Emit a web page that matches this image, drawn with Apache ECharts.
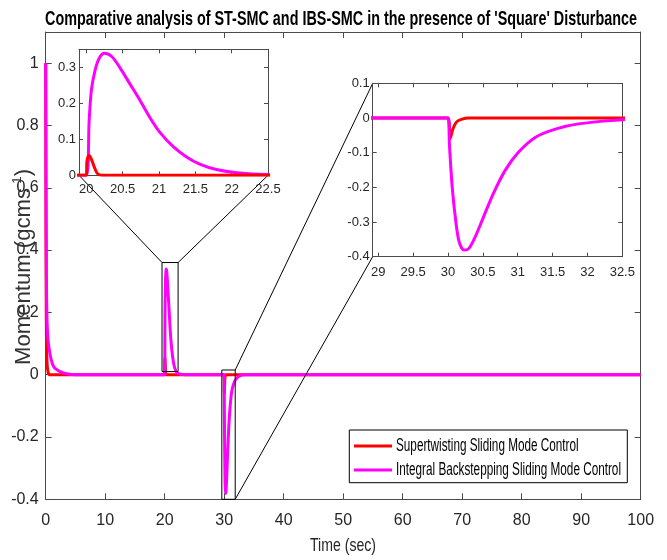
<!DOCTYPE html>
<html>
<head>
<meta charset="utf-8">
<script src="https://cdn.jsdelivr.net/npm/echarts@6/dist/echarts.min.js"></script>
<style>
  html, body { margin: 0; padding: 0; background: #fff; }
  #chart { width: 667px; height: 560px; }
</style>
</head>
<body>
<div id="chart"></div>
<script>
// Momentum response of the two controllers under a square disturbance
const stTime  = [0, 0.03, 0.06, 0.1, 0.15, 0.2, 0.3, 0.45, 0.6, 20.0, 20.01, 20.04, 20.07, 20.12, 20.16, 20.22, 30.0, 30.03, 30.07, 30.12, 30.19, 30.3, 100];
const stValue = [1, 0.6, 0.35, 0.18, 0.09, 0.05, 0.02, 0.005, 0, 0, 0.04, 0.055, 0.045, 0.018, 0.003, 0, 0, -0.06, -0.032, -0.012, -0.004, 0, 0];

const ibsTime  = [0, 0.03, 0.06, 0.1, 0.15, 0.25, 0.4, 0.6, 0.9, 1.3, 1.8, 2.4, 3.5, 5, 20.0, 20.04, 20.07, 20.12, 20.18, 20.25, 20.35, 20.46, 20.6, 20.74, 20.87, 21.01, 21.2, 21.38, 21.56, 21.79, 22.07, 22.5, 23.5, 30.0, 30.02, 30.06, 30.11, 30.16, 30.23, 30.3, 30.39, 30.51, 30.65, 30.82, 31.01, 31.25, 31.54, 31.87, 32.5, 33.5, 100];
const ibsValue = [1, 0.8, 0.6, 0.4, 0.25, 0.16, 0.11, 0.08, 0.05, 0.027, 0.017, 0.01, 0.003, 0, 0, 0.153, 0.236, 0.291, 0.326, 0.339, 0.33, 0.30, 0.254, 0.208, 0.162, 0.12, 0.079, 0.051, 0.031, 0.016, 0.007, 0.002, 0, 0, -0.075, -0.199, -0.295, -0.357, -0.381, -0.376, -0.343, -0.285, -0.218, -0.151, -0.099, -0.056, -0.032, -0.017, -0.005, 0, 0];

const seriesNames = ['Supertwisting Sliding Mode Control', 'Integral Backstepping Sliding Mode Control'];
const seriesColors = ['#ff0000', '#ff00ff'];

const titleText = "Comparative analysis of ST-SMC and IBS-SMC in the presence of 'Square' Disturbance";
const xName = 'Time (sec)';
const yNameMain = 'Momentum (gcms';
const yNameSup = '-1';

// main axes ticks
const mainXTicks = [0, 10, 20, 30, 40, 50, 60, 70, 80, 90, 100];
const mainYTicks = [-0.4, -0.2, 0, 0.2, 0.4, 0.6, 0.8, 1];
// zoomed views: [xmin, xmax, ymin, ymax]
const zoomA = [19.9, 22.5, 0, 0.35];
const zoomAXTicks = [20, 20.5, 21, 21.5, 22, 22.5];
const zoomAYTicks = [0, 0.1, 0.2, 0.3];
const zoomB = [28.92, 32.5, -0.4, 0.1];
const zoomBXTicks = [29, 29.5, 30, 30.5, 31, 31.5, 32, 32.5];
const zoomBYTicks = [-0.4, -0.3, -0.2, -0.1, 0, 0.1];
// highlighted regions on the main axes: [xmin, xmax, ymin, ymax]
const boxA = [19.55, 22.25, 0.01, 0.36];
const boxB = [29.6, 31.85, -0.4, 0.015];

const FONT = "'Liberation Sans', Arial, sans-serif";
const AXIS_COLOR = '#4a4a4a';
const TEXT_COLOR = '#262626';

const pairs = (t, v) => t.map((x, i) => [x, v[i]]);
const stData = pairs(stTime, stValue);
const ibsData = pairs(ibsTime, ibsValue);

const grids = [
  { left: 45.7, top: 32, width: 595, height: 467.3 },
  { left: 79, top: 49.3, width: 189, height: 126 },
  { left: 372.7, top: 83.3, width: 249.6, height: 173.4 }
];

function axisBase(gi, min, max, ticks, tickLen, z) {
  return {
    gridIndex: gi, type: 'value', min: min, max: max, z: z,
    axisLine: { show: true, onZero: false, lineStyle: { color: AXIS_COLOR, width: 1 } },
    axisTick: { show: true, inside: true, length: tickLen, customValues: ticks, lineStyle: { color: AXIS_COLOR } },
    splitLine: { show: false }
  };
}
function xAxisPair(gi, min, max, ticks, fs, margin, tickLen, z) {
  const base = axisBase(gi, min, max, ticks, tickLen, z);
  return [
    Object.assign({}, base, { position: 'bottom',
      axisLabel: { show: true, customValues: ticks, fontSize: fs, fontFamily: FONT, color: TEXT_COLOR, margin: margin } }),
    Object.assign({}, base, { position: 'top', axisLabel: { show: false } })
  ];
}
function yAxisPair(gi, min, max, ticks, fs, margin, tickLen, z) {
  const base = axisBase(gi, min, max, ticks, tickLen, z);
  return [
    Object.assign({}, base, { position: 'left',
      axisLabel: { show: true, customValues: ticks, fontSize: fs, fontFamily: FONT, color: TEXT_COLOR, margin: margin } }),
    Object.assign({}, base, { position: 'right', axisLabel: { show: false } })
  ];
}

const xAxes = [].concat(
  xAxisPair(0, 0, 100, mainXTicks, 16, 13, 6, 1),
  xAxisPair(1, zoomA[0], zoomA[1], zoomAXTicks, 13, 8, 4, 6),
  xAxisPair(2, zoomB[0], zoomB[1], zoomBXTicks, 13, 9, 4, 6)
);
const yAxes = [].concat(
  yAxisPair(0, -0.4, 1.1, mainYTicks, 16, 7, 6, 1),
  yAxisPair(1, zoomA[2], zoomA[3], zoomAYTicks, 13, 3, 4, 6),
  yAxisPair(2, zoomB[2], zoomB[3], zoomBYTicks, 13, 3, 4, 6)
);

function lineSeries(name, data, color, axisIdx, z) {
  return {
    name: name, type: 'line', data: data, xAxisIndex: axisIdx, yAxisIndex: axisIdx,
    showSymbol: false, symbol: 'none', clip: true, z: z,
    smooth: 0.3,
    lineStyle: { color: color, width: 3 }, itemStyle: { color: color },
    emphasis: { disabled: true }, animation: false
  };
}

const chart = echarts.init(document.getElementById('chart'), null, { renderer: 'canvas' });

chart.setOption({
  backgroundColor: '#ffffff',
  animation: false,
  grid: [
    Object.assign({ show: false, z: 0, outerBoundsMode: 'none', containLabel: false }, grids[0]),
    Object.assign({ show: true, backgroundColor: '#fff', borderWidth: 0, z: 5, outerBoundsMode: 'none', containLabel: false }, grids[1]),
    Object.assign({ show: true, backgroundColor: '#fff', borderWidth: 0, z: 5, outerBoundsMode: 'none', containLabel: false }, grids[2])
  ],
  xAxis: xAxes,
  yAxis: yAxes,
  series: [
    lineSeries(seriesNames[0], stData, seriesColors[0], 0, 2),
    lineSeries(seriesNames[1], ibsData, seriesColors[1], 0, 3),
    lineSeries(seriesNames[1], ibsData, seriesColors[1], 2, 7),
    lineSeries(seriesNames[0], stData, seriesColors[0], 2, 8),
    lineSeries(seriesNames[1], ibsData, seriesColors[1], 4, 7),
    lineSeries(seriesNames[0], stData, seriesColors[0], 4, 6)
  ]
});

// text measuring, used to fit the condensed labels into their boxes
const measureCtx = document.createElement('canvas').getContext('2d');
function textWidth(str, size, weight) {
  measureCtx.font = (weight || 'normal') + ' ' + size + 'px ' + FONT;
  return measureCtx.measureText(str).width;
}

const graphics = [];
const lineStyle = { stroke: '#000', lineWidth: 1 };
function pix(x, y) { return chart.convertToPixel({ gridIndex: 0 }, [x, y]); }

// highlight boxes on the main axes
[boxA, boxB].forEach(b => {
  const p0 = pix(b[0], b[3]);
  const p1 = pix(b[1], b[2]);
  graphics.push({ type: 'rect', z: 4, silent: true,
    shape: { x: p0[0], y: p0[1], width: p1[0] - p0[0], height: p1[1] - p0[1] },
    style: { fill: 'none', stroke: '#000', lineWidth: 1 } });
});
// connectors between the boxes and the zoomed views
const gA = grids[1], gB = grids[2];
const aTL = pix(boxA[0], boxA[3]), aTR = pix(boxA[1], boxA[3]);
const bTR = pix(boxB[1], boxB[3]), bBR = pix(boxB[1], boxB[2]);
graphics.push(
  { type: 'line', z: 4, silent: true, shape: { x1: gA.left, y1: gA.top + gA.height, x2: aTL[0], y2: aTL[1] }, style: lineStyle },
  { type: 'line', z: 4, silent: true, shape: { x1: gA.left + gA.width, y1: gA.top + gA.height, x2: aTR[0], y2: aTR[1] }, style: lineStyle },
  { type: 'line', z: 4, silent: true, shape: { x1: gB.left, y1: gB.top, x2: bTR[0], y2: bTR[1] }, style: lineStyle },
  { type: 'line', z: 4, silent: true, shape: { x1: gB.left, y1: gB.top + gB.height, x2: bBR[0], y2: bBR[1] }, style: lineStyle }
);

// title
const titleSize = 21;
graphics.push({ type: 'text', z: 20, silent: true, x: 45, y: 19.5,
  scaleX: 592 / textWidth(titleText, titleSize, 'bold'),
  style: { text: titleText, font: 'bold ' + titleSize + 'px ' + FONT, fill: '#000', align: 'left', verticalAlign: 'middle' } });

// x axis name
const xNameSize = 19;
graphics.push({ type: 'text', z: 20, silent: true, x: 343, y: 546,
  scaleX: 66 / textWidth(xName, xNameSize),
  style: { text: xName, font: xNameSize + 'px ' + FONT, fill: TEXT_COLOR, align: 'center', verticalAlign: 'middle' } });

// y axis name with superscript, read bottom to top
const yNameSize = 22, ySupSize = 13;
const yNameLen = textWidth(yNameMain, yNameSize) + textWidth(yNameSup, ySupSize) + textWidth(')', yNameSize);
graphics.push({ type: 'text', z: 20, silent: true, x: 23, y: 267, rotation: Math.PI / 2,
  scaleX: 196 / yNameLen,
  style: {
    text: '{a|' + yNameMain + '}{s|' + yNameSup + '}{a|)}',
    align: 'center', verticalAlign: 'middle',
    rich: {
      a: { fontSize: yNameSize, fontFamily: FONT, fill: '#333', lineHeight: 24, verticalAlign: 'bottom' },
      s: { fontSize: ySupSize, fontFamily: FONT, fill: '#333', lineHeight: 24, verticalAlign: 'top' }
    }
  } });

// legend
const legBox = { x: 349.3, y: 430, w: 278, h: 52.7 };
const legSize = 17.5;
const legScale = 225 / textWidth(seriesNames[1], legSize);
graphics.push({ type: 'rect', z: 20, silent: true,
  shape: { x: legBox.x, y: legBox.y, width: legBox.w, height: legBox.h },
  style: { fill: '#fff', stroke: '#000', lineWidth: 1 } });
seriesNames.forEach((n, i) => {
  const cy = 446 + i * 24;
  graphics.push(
    { type: 'line', z: 21, silent: true, shape: { x1: 354, y1: cy, x2: 392, y2: cy },
      style: { stroke: seriesColors[i], lineWidth: 3 } },
    { type: 'text', z: 21, silent: true, x: 396, y: cy, scaleX: legScale,
      style: { text: n, font: legSize + 'px ' + FONT, fill: '#000', align: 'left', verticalAlign: 'middle' } }
  );
});

chart.setOption({ graphic: graphics });
</script>
</body>
</html>
